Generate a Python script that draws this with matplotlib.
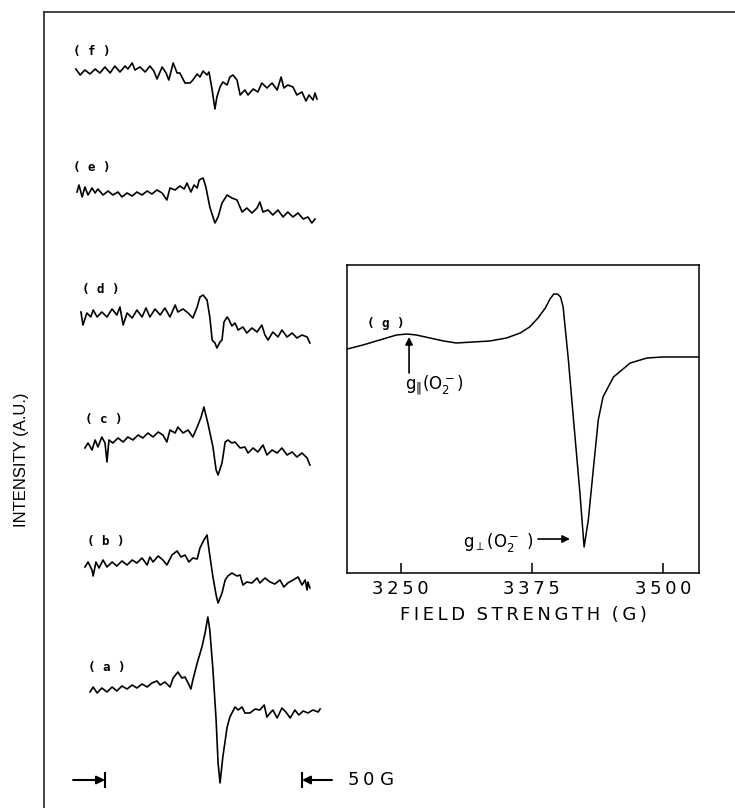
import numpy as np
import matplotlib.pyplot as plt

# ---- stacked spectra (a)-(f): field offset in G, intensity in a.u. ----
a_x = [-3.8, -3.0, -2.0, -0.8, 0.5, 1.8, 3.0, 4.3, 5.6, 6.9, 8.1, 9.4, 10.7, 11.9, 13.2, 14.0,
       15.2, 16.5, 17.3, 18.5, 19.5, 20.3, 21.1, 21.8, 22.3, 23.4, 24.6, 25.4, 26.1, 26.6, 27.4,
       28.2, 28.7, 29.2, 29.9, 31.0, 31.7, 33.0, 33.8, 34.8, 35.5, 36.8, 38.1, 39.3, 40.4, 41.1,
       41.9, 42.6, 43.7, 44.9, 45.9, 47.0, 48.2, 49.2, 50.3, 51.5, 52.8, 54.1, 54.6]
a_y = [-2, 3, -3, 2, -2, 3, -1, 4, 1, 5, 2, 6, 3, 7, 9, 5,
       8, 3, 12, 18, 12, 13, 7, 1, 10, 27, 43, 57, 73, 60, 20,
       -30, -73, -93, -67, -37, -27, -17, -20, -17, -23, -23, -19, -20, -15, -27,
       -23, -20, -28, -18, -22, -28, -20, -25, -21, -23, -20, -22, -19]

b_x = [-5.1, -4.3, -3.3, -3.0, -2.3, -1.5, -0.5, 0.5, 1.8, 3.0, 4.3, 5.6, 6.9, 8.1, 9.4, 10.7,
       11.4, 12.2, 13.5, 14.7, 15.7, 17.0, 18.3, 19.3, 20.3, 21.3, 22.3, 23.4, 24.1, 25.1, 25.9,
       26.4, 27.4, 28.2, 28.7, 29.7, 30.5, 31.2, 32.2, 33.5, 34.3, 35.0, 36.0, 37.3, 38.6, 39.3,
       40.6, 41.9, 43.1, 44.4, 45.4, 46.4, 47.7, 49.0, 50.0, 50.8, 51.3, 51.5, 52.0]
b_y = [-2, 3, -5, -11, 3, -3, 5, -2, 3, -1, 4, 0, 5, 2, 7, 0,
       8, 3, 9, 5, 0, 10, 14, 8, 10, 3, 7, 6, 17, 25, 30,
       15, -12, -30, -38, -28, -15, -11, -8, -11, -10, -20, -17, -18, -13, -18,
       -13, -17, -19, -15, -22, -18, -15, -12, -20, -15, -25, -17, -23]

c_x = [-5.1, -4.3, -3.3, -2.5, -1.8, -0.8, 0.0, 0.5, 1.0, 2.0, 3.3, 4.6, 5.8, 7.1, 8.4, 9.6,
       10.9, 12.2, 13.5, 14.7, 15.7, 16.5, 17.8, 18.5, 19.8, 21.1, 22.3, 23.4, 24.4, 25.1, 26.1,
       27.4, 28.2, 28.7, 29.7, 30.5, 31.2, 32.2, 33.0, 34.3, 35.5, 36.3, 37.6, 38.8, 40.1, 41.1,
       42.4, 43.7, 44.9, 46.2, 47.5, 48.7, 50.0, 51.3, 52.0]
c_y = [-5, 0, -7, 3, -4, 6, 0, -19, 3, 0, 5, 1, 6, 3, 8, 5,
       10, 6, 11, 8, 1, 13, 10, 16, 10, 13, 6, 16, 26, 36, 20,
       -4, -27, -32, -20, 1, 3, 0, 1, -5, -4, -10, -5, -9, -2, -12,
       -7, -10, -5, -12, -9, -14, -10, -15, -22]

d_x = [-6.1, -5.6, -4.6, -3.6, -3.0, -2.0, -0.8, 0.5, 1.8, 3.0, 3.8, 4.6, 5.6, 6.9, 8.1, 9.4,
       10.4, 11.4, 12.7, 14.0, 15.2, 16.5, 17.8, 18.5, 19.8, 21.1, 22.3, 23.4, 24.1, 24.9, 25.9,
       26.6, 27.2, 27.9, 28.4, 29.2, 29.7, 30.2, 31.0, 31.5, 32.2, 33.0, 33.8, 35.0, 36.0, 37.3,
       38.6, 39.8, 40.6, 41.4, 42.6, 43.9, 44.9, 46.2, 47.5, 48.7, 50.0, 51.3, 52.0]
d_y = [1, -12, 0, -4, 3, -4, 1, -4, 4, -2, 6, -12, 0, -5, 3, -4,
       5, -4, 4, -2, 5, -4, 8, 1, 4, 0, -5, 6, 16, 18, 13,
       -4, -27, -30, -35, -29, -27, -9, -4, -7, -13, -10, -17, -14, -20, -15,
       -19, -12, -22, -27, -19, -24, -17, -24, -20, -25, -22, -24, -30]

e_x = [-7.1, -6.6, -5.8, -5.1, -4.3, -3.3, -2.5, -1.8, -0.5, 0.8, 2.0, 3.3, 4.3, 5.6, 6.9, 8.1,
       9.4, 10.7, 11.9, 13.2, 14.5, 15.7, 16.5, 17.8, 19.0, 20.1, 20.8, 21.8, 22.6, 23.4, 23.9,
       24.9, 25.6, 26.6, 27.9, 28.7, 29.7, 31.0, 32.2, 33.5, 34.8, 36.0, 37.3, 38.6, 39.3, 40.1,
       41.4, 42.6, 43.9, 45.2, 46.4, 47.7, 49.0, 50.3, 51.5, 52.5, 53.3]
e_y = [0, 7, -5, 5, -3, 4, -1, 3, -3, 1, -3, 0, -5, -1, -4, 0,
       -3, 1, -2, 2, -1, -8, 4, 2, 6, 3, 9, 0, 7, 4, 12,
       14, 5, -15, -31, -25, -11, -3, -6, -8, -20, -16, -21, -16, -10, -20,
       -18, -23, -18, -25, -20, -25, -21, -27, -25, -31, -27]

f_x = [-7.4, -6.3, -5.1, -3.8, -2.5, -1.3, 0.0, 1.3, 2.5, 3.8, 5.1, 5.8, 6.9, 7.6, 8.9, 10.2,
       11.4, 12.4, 13.2, 14.5, 15.5, 16.2, 17.3, 18.3, 19.0, 20.3, 21.6, 22.3, 23.4, 24.1, 24.9,
       25.9, 26.4, 27.2, 27.9, 28.4, 29.2, 29.9, 31.0, 31.7, 32.5, 33.5, 34.3, 35.5, 36.3, 37.6,
       38.8, 39.8, 41.1, 42.4, 43.7, 44.7, 45.4, 46.4, 47.7, 48.7, 50.0, 51.0, 51.8, 52.8, 53.3,
       53.8]
f_y = [1, -5, 0, -4, 1, -3, 3, -3, 4, -2, 4, 1, 7, 0, 3, -2,
       4, -1, -9, 3, -3, -10, 7, -3, -3, -13, -13, -10, -4, -7, -1,
       -5, -2, -20, -39, -27, -17, -12, -15, -7, -5, -10, -25, -20, -25, -19,
       -22, -13, -18, -13, -20, -7, -18, -15, -17, -25, -22, -31, -25, -30, -23,
       -29]

spectra = [(a_x, a_y), (b_x, b_y), (c_x, c_y), (d_x, d_y), (e_x, e_y), (f_x, f_y)]
names = ['a', 'b', 'c', 'd', 'e', 'f']

# ---- spectrum (g): field (G) vs intensity (a.u.) ----
g_field = [3199, 3214, 3230, 3246, 3256, 3265, 3278, 3291, 3303, 3319, 3335, 3351, 3364,
           3373, 3381, 3388, 3392.5, 3396, 3399.5, 3402.5, 3405, 3410, 3415.5, 3421, 3425,
           3429, 3434, 3438.5, 3443, 3453, 3469, 3485, 3500, 3535]
g_int = [224, 228, 233, 238, 239, 238, 235, 232, 230, 231, 232, 235, 240,
         246, 255, 265, 274, 279, 279, 276, 266, 213, 146, 80, 26,
         53, 106, 153, 176, 196, 210, 215, 216, 216]
g_ticks = [3250, 3375, 3500]

# layout
offsets = [118, 243, 365, 495, 616, 738]
label_pos = [(-4.3, 140), (-4.6, 266), (-5.1, 388), (-5.8, 518), (-8.1, 640), (-8.1, 756)]

TS = '\u2009'


def spaced(s):
    return TS.join(s)


fig = plt.figure(figsize=(7.35, 8.08), dpi=100)

ax = fig.add_axes([44 / 735, 0, 691 / 735, 796 / 808])
ax.set_xlim(-61 / 3.94, 630 / 3.94)
ax.set_ylim(0, 796)
for sp in ['right', 'bottom']:
    ax.spines[sp].set_visible(False)
for sp in ['left', 'top']:
    ax.spines[sp].set_linewidth(1.2)
    ax.spines[sp].set_color('#222222')
ax.set_xticks([])
ax.set_yticks([])

for (x, y), off, nm, (lx, ly) in zip(spectra, offsets, names, label_pos):
    ax.plot(x, np.array(y) + off, color='black', lw=1.2)
    ax.text(lx, ly, '( %s )' % nm, family='DejaVu Sans Mono', weight='bold',
            fontsize=9, ha='left', va='center')

# 50 G scale bar
bar_y = 28
ax.plot([0, 0], [bar_y - 7, bar_y + 7], color='black', lw=1.5)
ax.plot([50, 50], [bar_y - 7, bar_y + 7], color='black', lw=1.5)
ax.annotate('', xy=(0, bar_y), xytext=(-8.1, bar_y),
            arrowprops=dict(arrowstyle='-|>', color='black', lw=1.5,
                            mutation_scale=12, shrinkA=0, shrinkB=0))
ax.annotate('', xy=(50, bar_y), xytext=(57.6, bar_y),
            arrowprops=dict(arrowstyle='-|>', color='black', lw=1.5,
                            mutation_scale=12, shrinkA=0, shrinkB=0))
ax.text(61.7, bar_y, '5' + TS + '0 G', fontsize=13, ha='left', va='center')

ax.set_ylabel('INTENSITY (A.U.)', family='Liberation Sans', fontsize=12)
ax.yaxis.set_label_coords(-0.022, 0.437)

# inset (g)
ax2 = fig.add_axes([347 / 735, (808 - 573) / 808, 352 / 735, 308 / 808])
ax2.plot(g_field, g_int, color='black', lw=1.1)
ax2.set_xlim(3198.8, 3534.6)
ax2.set_ylim(0, 308)
ax2.set_yticks([])
ax2.set_xticks(g_ticks)
ax2.set_xticklabels([spaced(str(t)) for t in g_ticks])
ax2.tick_params(axis='x', direction='in', length=7, width=1.1, labelsize=13, pad=5)
for sp in ax2.spines.values():
    sp.set_linewidth(1.1)
ax2.set_xlabel(spaced('FIELD') + '  ' + spaced('STRENGTH') + '  ' + spaced('(G)'),
               fontsize=13, labelpad=6)

ax2.text(3218, 250, '( g )', family='DejaVu Sans Mono', weight='bold',
         fontsize=9, ha='left', va='center')
ax2.annotate('', xy=(3258, 236), xytext=(3258, 200),
             arrowprops=dict(arrowstyle='-|>', color='black', lw=1.2,
                             mutation_scale=11, shrinkA=0, shrinkB=0))
ax2.text(3254, 188, r'g$_{\Vert}$(O$_2^-$)', fontsize=12, ha='left', va='center')
ax2.text(3377, 30, r'g$_{\perp}$(O$_2^-$ )', fontsize=12, ha='right', va='center')
ax2.annotate('', xy=(3411.5, 34), xytext=(3381, 34),
             arrowprops=dict(arrowstyle='-|>', color='black', lw=1.2,
                             mutation_scale=11, shrinkA=0, shrinkB=0))

fig.savefig('out.png', dpi=100)
